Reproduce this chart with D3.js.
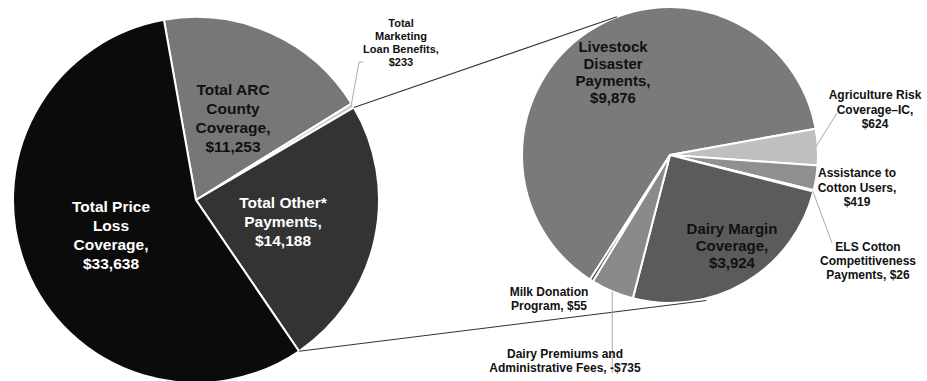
<!DOCTYPE html>
<html><head><meta charset="utf-8">
<script src="https://cdn.jsdelivr.net/npm/d3@7"></script>
<style>body{margin:0;background:#fff}svg{display:block}text{font-family:"Liberation Sans",Arial,sans-serif;font-weight:700}</style>
</head><body><svg id="c" width="927" height="381"></svg>
<script>
// Left (main) pie
const mainCategories = ["Total ARC County Coverage", "Total Marketing Loan Benefits", "Total Other* Payments", "Total Price Loss Coverage"];
const mainValues = [11253, 233, 14188, 33638];
const mainLabels = [
  ["Total ARC", "County", "Coverage,", "$11,253"],
  ["Total", "Marketing", "Loan Benefits,", "$233"],
  ["Total Other*", "Payments,", "$14,188"],
  ["Total Price", "Loss", "Coverage,", "$33,638"]
];
// Right (secondary) pie: breakdown of "Total Other* Payments"
const subCategories = ["Livestock Disaster Payments", "Agriculture Risk Coverage–IC", "Assistance to Cotton Users", "ELS Cotton Competitiveness Payments", "Dairy Margin Coverage", "Dairy Premiums and Administrative Fees", "Milk Donation Program"];
const subValues = [9876, 624, 419, 26, 3924, -735, 55];
const subLabels = [
  ["Livestock", "Disaster", "Payments,", "$9,876"],
  ["Agriculture Risk", "Coverage–IC,", "$624"],
  ["Assistance to", "Cotton Users,", "$419"],
  ["ELS Cotton", "Competitiveness", "Payments, $26"],
  ["Dairy Margin", "Coverage,", "$3,924"],
  ["Dairy Premiums and", "Administrative Fees, -$735"],
  ["Milk Donation", "Program, $55"]
];

const svg = d3.select("#c");
const deg = Math.PI / 180;

const mainColors = ["#777777", "#c8c8c8", "#333333", "#0b0b0b"];
const subColors = ["#7a7a7a", "#bfbfbf", "#8f8f8f", "#6a6a6a", "#5b5b5b", "#8a8a8a", "#3a3a3a"];

const L = {cx: 196, cy: 200, r: 183};
const R = {cx: 670, cy: 155, r: 148};

const mainPie = d3.pie().sort(null).value(d => d).startAngle(-10.1 * deg).endAngle(349.9 * deg);
const subPie = d3.pie().sort(null).value(d => Math.abs(d)).startAngle(-147.3 * deg).endAngle(212.7 * deg);

const mainArcs = mainPie(mainValues);
const subArcs = subPie(subValues);

const arcL = d3.arc().innerRadius(0).outerRadius(L.r);
const arcR = d3.arc().innerRadius(0).outerRadius(R.r);

const gL = svg.append("g").attr("transform", `translate(${L.cx},${L.cy})`);
gL.selectAll("path").data(mainArcs).join("path")
  .attr("d", arcL).attr("fill", (d, i) => mainColors[i])
  .attr("stroke", "#fff").attr("stroke-width", 2).attr("stroke-linejoin", "round");

const gR = svg.append("g").attr("transform", `translate(${R.cx},${R.cy})`);
gR.selectAll("path").data(subArcs).join("path")
  .attr("d", arcR).attr("fill", (d, i) => subColors[i])
  .attr("stroke", "#fff").attr("stroke-width", 2).attr("stroke-linejoin", "round");

// connector lines from "Total Other*" slice to secondary pie
const pt = (c, ang, r) => [c.cx + r * Math.sin(ang), c.cy - r * Math.cos(ang)];
const other = mainArcs[2];
const a1 = pt(L, other.startAngle, L.r), b1 = pt(R, -21 * deg, R.r);
const a2 = pt(L, other.endAngle, L.r), b2 = pt(R, 166 * deg, R.r + 2);
svg.append("line").attr("x1", a1[0]).attr("y1", a1[1]).attr("x2", b1[0]).attr("y2", b1[1]).attr("stroke", "#333").attr("stroke-width", 1.1);
svg.append("line").attr("x1", a2[0]).attr("y1", a2[1]).attr("x2", b2[0]).attr("y2", b2[1]).attr("stroke", "#333").attr("stroke-width", 1.1);

// leader lines (light gray)
function leader(points) {
  svg.append("path").attr("d", d3.line()(points)).attr("fill", "none").attr("stroke", "#aaa").attr("stroke-width", 1);
}
const mk = mainArcs[1];
leader([[363, 62], [359, 62], pt(L, (mk.startAngle + mk.endAngle) / 2, L.r - 2)]);
const ag = subArcs[1];
leader([[837, 113], pt(R, (ag.startAngle + ag.endAngle) / 2, R.r - 2)]);
const els = subArcs[3];
leader([[832, 243], pt(R, (els.startAngle + els.endAngle) / 2, R.r - 1)]);
const dp = subArcs[5];
const dpPt = pt(R, (dp.startAngle + dp.endAngle) / 2, R.r);
leader([[dpPt[0], dpPt[1]], [dpPt[0], 373]]);

// labels
function label(lines, x, y, lh, size, color) {
  const t = svg.append("text").attr("text-anchor", "middle").attr("font-size", size).attr("fill", color);
  lines.forEach((s, i) => t.append("tspan").attr("x", x).attr("y", y + i * lh).attr("dy", "0.35em").text(s));
}
label(mainLabels[0], 233, 90, 18.7, 15.5, "#111");
label(mainLabels[1], 401, 23, 13, 11, "#111");
label(mainLabels[2], 283, 203, 19, 15.5, "#fff");
label(mainLabels[3], 111, 207, 19, 15.5, "#fff");

label(subLabels[0], 613, 47, 17, 15, "#111");
label(subLabels[1], 875, 95, 14.5, 12, "#111");
label(subLabels[2], 857, 173, 14.3, 12, "#111");
label(subLabels[3], 868, 247, 14, 12, "#111");
label(subLabels[4], 732, 229, 17, 15, "#111");
label(subLabels[5], 565, 354, 13.5, 12, "#111");
label(subLabels[6], 549, 292, 13.5, 12, "#111");
</script></body></html>
